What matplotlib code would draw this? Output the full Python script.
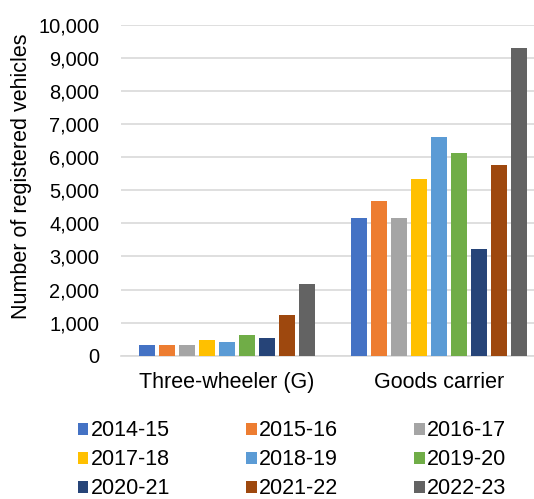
import matplotlib
matplotlib.use("Agg")
import matplotlib.pyplot as plt
from matplotlib.patches import Patch
from matplotlib.ticker import FuncFormatter
import numpy as np

plt.rcParams['font.family'] = ['Liberation Sans', 'DejaVu Sans']

categories = ["Three-wheeler (G)", "Goods carrier"]
years = ["2014-15", "2015-16", "2016-17", "2017-18", "2018-19",
         "2019-20", "2020-21", "2021-22", "2022-23"]
three_wheeler = [330, 330, 330, 460, 400, 630, 520, 1240, 2170]
goods_carrier = [4160, 4680, 4160, 5340, 6610, 6120, 3230, 5760, 9290]
colors = ["#4472C4", "#ED7D31", "#A5A5A5", "#FFC000", "#5B9BD5",
          "#70AD47", "#264478", "#9E480E", "#636363"]

W, H = 534, 499
fig = plt.figure(figsize=(W / 100, H / 100), dpi=100)
ax = fig.add_axes([121 / W, 1 - 355.7 / H, 424 / W, 331 / H])

x = np.arange(len(categories))
pitch = 20 / 212
bar_w = 16 / 212
for i, (yr, c) in enumerate(zip(years, colors)):
    vals = [three_wheeler[i], goods_carrier[i]]
    ax.bar(x + (i - 4) * pitch, vals, width=bar_w, color=c, zorder=3)

ax.set_xlim(-0.5, 1.5)
ax.set_ylim(0, 10000)
ax.set_yticks(np.arange(0, 10001, 1000))
ax.yaxis.set_major_formatter(FuncFormatter(lambda v, p: f"{int(v):,}"))
ax.set_xticks(x)
ax.set_xticklabels(categories)
ax.grid(axis='y', color='#D9D9D9', linewidth=1.2, zorder=0)
for s in ['top', 'right', 'left']:
    ax.spines[s].set_visible(False)
ax.spines['bottom'].set_color('#D9D9D9')
ax.spines['bottom'].set_linewidth(1.2)
ax.tick_params(axis='both', length=0)
ax.tick_params(axis='y', labelsize=14.4, pad=15.5, colors='black')
ax.tick_params(axis='x', labelsize=15.5, pad=12, colors='black')

fig.text(22 / W, 1 - 176 / H, "Number of registered vehicles",
         rotation=90, ha='center', va='center', fontsize=15.5)

# legend reads row by row: reorder entries for matplotlib's column filling
ncol = 3
order = [r * ncol + c for c in range(ncol) for r in range(len(years) // ncol)]
handles = [Patch(facecolor=colors[k]) for k in order]
labels = [years[k] for k in order]
fig.legend(handles, labels, ncol=ncol, loc='upper left',
           bbox_to_anchor=(78 / W, 1 - 420.5 / H), frameon=False,
           fontsize=15.5, handlelength=0.48, handleheight=0.48,
           handletextpad=0.1, columnspacing=3.55, labelspacing=0.37,
           borderpad=0, borderaxespad=0)

fig.savefig("out.png", dpi=100)
